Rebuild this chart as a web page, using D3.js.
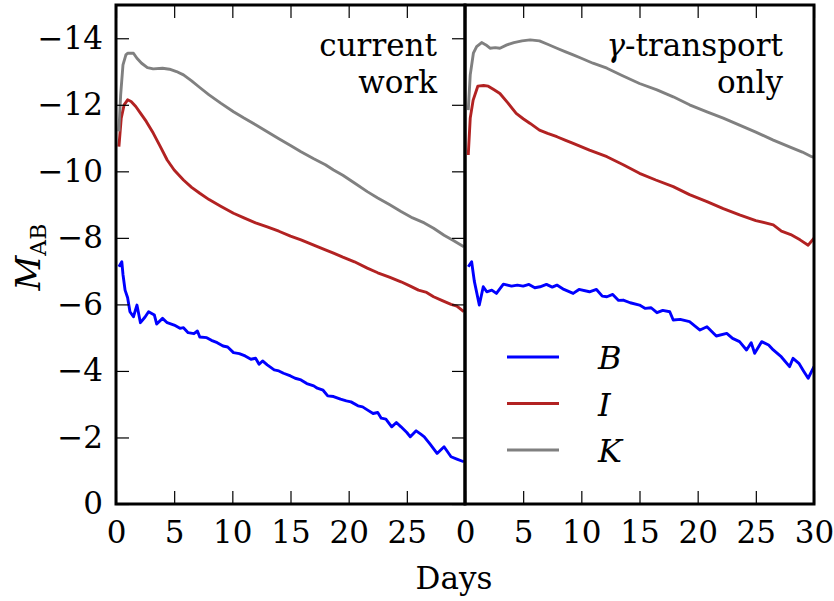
<!DOCTYPE html>
<html>
<head>
<meta charset="utf-8">
<script src="https://cdn.jsdelivr.net/npm/d3@7"></script>
<style>
  html, body { margin: 0; padding: 0; background: #fff; }
  svg { display: block; }
  text { font-family: "DejaVu Serif", serif; fill: #000; }
</style>
</head>
<body>
<svg id="chart" width="834" height="601"></svg>
<script>
// ---- data ----
const bands = ["B", "I", "K"];
const bandColors = ["#0000ff", "#b22222", "#808080"];
const panelTitles = [["current", "work"], ["γ-transport", "only"]];
const xTicksLeft = [0, 5, 10, 15, 20, 25];
const xTicksRight = [0, 5, 10, 15, 20, 25, 30];
const yTicks = [0, -2, -4, -6, -8, -10, -12, -14];

const leftB = [[0.25,-7.13],[0.5,-7.28],[0.6,-6.9],[0.78,-6.43],[1.0,-6.2],[1.2,-5.78],[1.5,-5.63],[1.8,-5.98],[2.1,-5.45],[2.5,-5.62],[2.8,-5.78],[3.3,-5.68],[3.5,-5.41],[4.0,-5.58],[4.4,-5.45],[5.0,-5.38],[5.5,-5.28],[5.8,-5.3],[6.2,-5.15],[6.7,-5.12],[7.0,-5.2],[7.2,-5.02],[7.8,-5.0],[8.2,-4.92],[8.7,-4.85],[9.2,-4.75],[9.6,-4.72],[10.1,-4.55],[10.6,-4.52],[11.1,-4.45],[11.6,-4.35],[12.0,-4.38],[12.3,-4.2],[12.6,-4.3],[13.0,-4.18],[13.6,-4.03],[14.0,-4.0],[14.4,-3.93],[15.0,-3.85],[15.4,-3.78],[15.9,-3.73],[16.4,-3.62],[17.0,-3.55],[17.3,-3.48],[17.8,-3.42],[18.2,-3.25],[18.7,-3.23],[19.3,-3.15],[19.8,-3.1],[20.2,-3.07],[20.8,-2.95],[21.2,-2.92],[21.6,-2.83],[22.1,-2.72],[22.5,-2.75],[22.8,-2.58],[23.2,-2.55],[23.7,-2.32],[24.1,-2.45],[24.5,-2.32],[25.0,-2.15],[25.3,-2.02],[25.8,-2.2],[26.2,-2.1],[26.5,-2.02],[27.0,-1.8],[27.6,-1.52],[28.2,-1.72],[28.8,-1.42],[29.3,-1.35],[29.9,-1.27]];
const leftI = [[0.25,-10.74],[0.45,-11.6],[0.7,-12.0],[1.0,-12.15],[1.3,-12.1],[1.7,-11.95],[2.1,-11.75],[2.6,-11.5],[3.2,-11.15],[3.8,-10.75],[4.4,-10.34],[5.0,-10.04],[5.8,-9.74],[6.5,-9.52],[7.2,-9.34],[8.0,-9.15],[9.0,-8.95],[10.1,-8.74],[11.0,-8.6],[12.0,-8.45],[13.0,-8.33],[14.0,-8.2],[15.0,-8.05],[15.9,-7.94],[17.0,-7.78],[18.0,-7.64],[18.7,-7.54],[19.5,-7.42],[20.5,-7.28],[21.6,-7.09],[22.5,-6.95],[23.5,-6.82],[24.5,-6.68],[25.3,-6.55],[26.0,-6.43],[26.7,-6.36],[27.3,-6.23],[28.0,-6.12],[28.8,-6.0],[29.3,-5.95],[29.9,-5.78]];
const leftK = [[0.25,-11.2],[0.4,-12.3],[0.6,-13.2],[0.85,-13.5],[1.0,-13.55],[1.5,-13.55],[1.8,-13.4],[2.2,-13.25],[2.7,-13.12],[3.2,-13.08],[4.0,-13.1],[4.6,-13.07],[5.2,-13.0],[5.8,-12.9],[6.5,-12.72],[7.2,-12.52],[8.0,-12.3],[9.0,-12.05],[10.1,-11.79],[11.0,-11.6],[12.0,-11.4],[13.0,-11.19],[14.0,-10.98],[15.0,-10.78],[15.9,-10.59],[17.0,-10.38],[18.0,-10.2],[18.7,-10.04],[19.5,-9.88],[20.5,-9.65],[21.6,-9.39],[22.5,-9.2],[23.5,-9.0],[24.5,-8.79],[25.5,-8.6],[26.5,-8.45],[27.3,-8.29],[28.2,-8.08],[29.0,-7.92],[29.9,-7.73]];

const rightB = [[0.28,-7.13],[0.57,-7.28],[0.8,-6.7],[1.23,-5.98],[1.57,-6.53],[1.87,-6.38],[2.3,-6.43],[2.7,-6.33],[3.3,-6.61],[4.0,-6.55],[4.5,-6.58],[5.0,-6.55],[5.5,-6.6],[6.0,-6.5],[6.45,-6.53],[7.0,-6.6],[7.5,-6.52],[7.9,-6.58],[8.5,-6.45],[9.3,-6.33],[9.8,-6.45],[10.7,-6.38],[11.3,-6.45],[11.8,-6.25],[12.2,-6.23],[12.7,-6.3],[13.2,-6.12],[13.6,-6.13],[14.2,-6.05],[15.0,-5.98],[15.5,-5.88],[16.0,-5.9],[16.5,-5.75],[17.0,-5.82],[17.6,-5.78],[17.9,-5.53],[18.5,-5.55],[19.3,-5.48],[20.2,-5.23],[20.8,-5.33],[21.6,-5.05],[22.5,-5.13],[23.0,-4.98],[23.6,-4.88],[24.2,-4.63],[24.6,-4.85],[24.9,-4.53],[25.5,-4.88],[26.1,-4.78],[26.5,-4.63],[27.2,-4.42],[27.9,-4.13],[28.2,-4.38],[28.7,-4.23],[29.1,-4.0],[29.5,-3.78],[30,-4.13]];
const rightI = [[0.28,-10.49],[0.45,-11.6],[0.7,-12.14],[1.1,-12.56],[1.6,-12.58],[2.0,-12.56],[2.5,-12.45],[3.0,-12.34],[3.7,-12.05],[4.4,-11.74],[5.0,-11.58],[5.6,-11.44],[6.4,-11.24],[7.1,-11.14],[7.9,-11.04],[8.6,-10.94],[9.3,-10.84],[10.7,-10.64],[12.2,-10.44],[13.6,-10.2],[15.0,-9.94],[16.4,-9.74],[17.9,-9.54],[19.3,-9.3],[20.8,-9.09],[22.2,-8.88],[23.6,-8.69],[25.0,-8.52],[26.5,-8.39],[27.2,-8.2],[28.0,-8.1],[28.8,-7.94],[29.5,-7.78],[30,-7.99]];
const rightK = [[0.28,-11.84],[0.45,-12.9],[0.72,-13.55],[1.0,-13.75],[1.43,-13.87],[1.8,-13.8],[2.15,-13.7],[2.6,-13.72],[3.0,-13.7],[3.6,-13.8],[4.2,-13.87],[4.9,-13.92],[5.6,-13.95],[6.4,-13.92],[7.1,-13.82],[7.9,-13.7],[8.6,-13.6],[9.3,-13.5],[10.0,-13.4],[11.0,-13.25],[12.2,-13.1],[13.5,-12.88],[15.0,-12.64],[16.5,-12.45],[17.9,-12.24],[19.3,-12.0],[20.8,-11.79],[22.2,-11.6],[23.6,-11.39],[25.0,-11.18],[26.5,-10.94],[28.0,-10.72],[29.0,-10.58],[29.8,-10.44],[30,-10.42]];

// ---- layout ----
const svg = d3.select("#chart");
const plotTop = 5, plotBottom = 504;
const panels = [
  { x0: 116, x1: 465, series: [leftB, leftI, leftK], xTicks: xTicksLeft, title: panelTitles[0], titleX: 437, leftAxis: true, rightTicks: true },
  { x0: 465, x1: 814, series: [rightB, rightI, rightK], xTicks: xTicksRight, title: panelTitles[1], titleX: 783, leftAxis: false, rightTicks: false }
];
const y = d3.scaleLinear().domain([0, -15]).range([plotBottom, plotTop]);
const fontSize = 31;
const tickLen = 13;

panels.forEach((p, i) => {
  const x = d3.scaleLinear().domain([0, 30]).range([p.x0, p.x1]);
  const clipId = "clip" + i;
  svg.append("clipPath").attr("id", clipId)
    .append("rect").attr("x", p.x0).attr("y", plotTop).attr("width", p.x1 - p.x0).attr("height", plotBottom - plotTop);

  const line = d3.line().x(d => x(d[0])).y(d => y(d[1]));
  const g = svg.append("g").attr("clip-path", `url(#${clipId})`);
  p.series.forEach((s, k) => {
    g.append("path").datum(s)
      .attr("d", line)
      .attr("fill", "none")
      .attr("stroke", bandColors[k])
      .attr("stroke-width", 2.9)
      .attr("stroke-linejoin", "round");
  });

  const bx = svg.append("g").attr("transform", `translate(0,${plotBottom})`)
    .call(d3.axisBottom(x).tickValues(p.xTicks).tickSizeInner(-tickLen).tickSizeOuter(0).tickPadding(17).tickFormat(d3.format("d")));
  bx.select(".domain").remove();
  bx.selectAll("line").attr("stroke", "#000").attr("stroke-width", 1.2);
  bx.selectAll("text").style("font-family", "DejaVu Serif, serif").style("font-size", fontSize + "px").attr("fill", "#000");

  const tx = svg.append("g").attr("transform", `translate(0,${plotTop})`)
    .call(d3.axisTop(x).tickValues(p.xTicks).tickSizeInner(-tickLen).tickSizeOuter(0).tickFormat(""));
  tx.select(".domain").remove();
  tx.selectAll("line").attr("stroke", "#000").attr("stroke-width", 1.2);

  if (p.leftAxis) {
    const ly = svg.append("g").attr("transform", `translate(${p.x0},0)`)
      .call(d3.axisLeft(y).tickValues(yTicks).tickSizeInner(-tickLen).tickSizeOuter(0).tickPadding(13).tickFormat(d3.format("d")));
    ly.select(".domain").remove();
    ly.selectAll("line").attr("stroke", "#000").attr("stroke-width", 1.2);
    ly.selectAll("text").style("font-family", "DejaVu Serif, serif").style("font-size", fontSize + "px").attr("fill", "#000");
  }
  if (p.rightTicks) {
    const ry = svg.append("g").attr("transform", `translate(${p.x1},0)`)
      .call(d3.axisRight(y).tickValues(yTicks).tickSizeInner(-tickLen).tickSizeOuter(0).tickFormat(""));
    ry.select(".domain").remove();
    ry.selectAll("line").attr("stroke", "#000").attr("stroke-width", 1.2);
  }

  svg.append("rect")
    .attr("x", p.x0).attr("y", plotTop).attr("width", p.x1 - p.x0).attr("height", plotBottom - plotTop)
    .attr("fill", "none").attr("stroke", "#000").attr("stroke-width", 3);

  p.title.forEach((t, j) => {
    const txt = svg.append("text")
      .attr("x", p.titleX).attr("y", 56 + j * 37)
      .attr("text-anchor", "end")
      .style("font-size", fontSize + "px");
    if (t.startsWith("γ")) {
      txt.append("tspan").style("font-style", "italic").text("γ");
      txt.append("tspan").text(t.slice(1));
    } else {
      txt.text(t);
    }
  });
});

const legend = svg.append("g");
bands.forEach((b, k) => {
  const ly = 357 + k * 46.5;
  legend.append("line").attr("x1", 507).attr("x2", 559).attr("y1", ly).attr("y2", ly)
    .attr("stroke", bandColors[k]).attr("stroke-width", 2.9);
  legend.append("text").attr("x", 598).attr("y", ly + 12)
    .style("font-size", "32px").style("font-style", "italic").text(b);
});

svg.append("text").attr("x", 454).attr("y", 589).attr("text-anchor", "middle")
  .style("font-size", "31px").text("Days");

const yl = svg.append("text")
  .attr("transform", "translate(40,257) rotate(-90)")
  .attr("text-anchor", "middle")
  .style("font-size", "34px");
yl.append("tspan").style("font-style", "italic").text("M");
yl.append("tspan").attr("dy", 6).style("font-size", "22px").text("AB");
</script>
</body>
</html>
